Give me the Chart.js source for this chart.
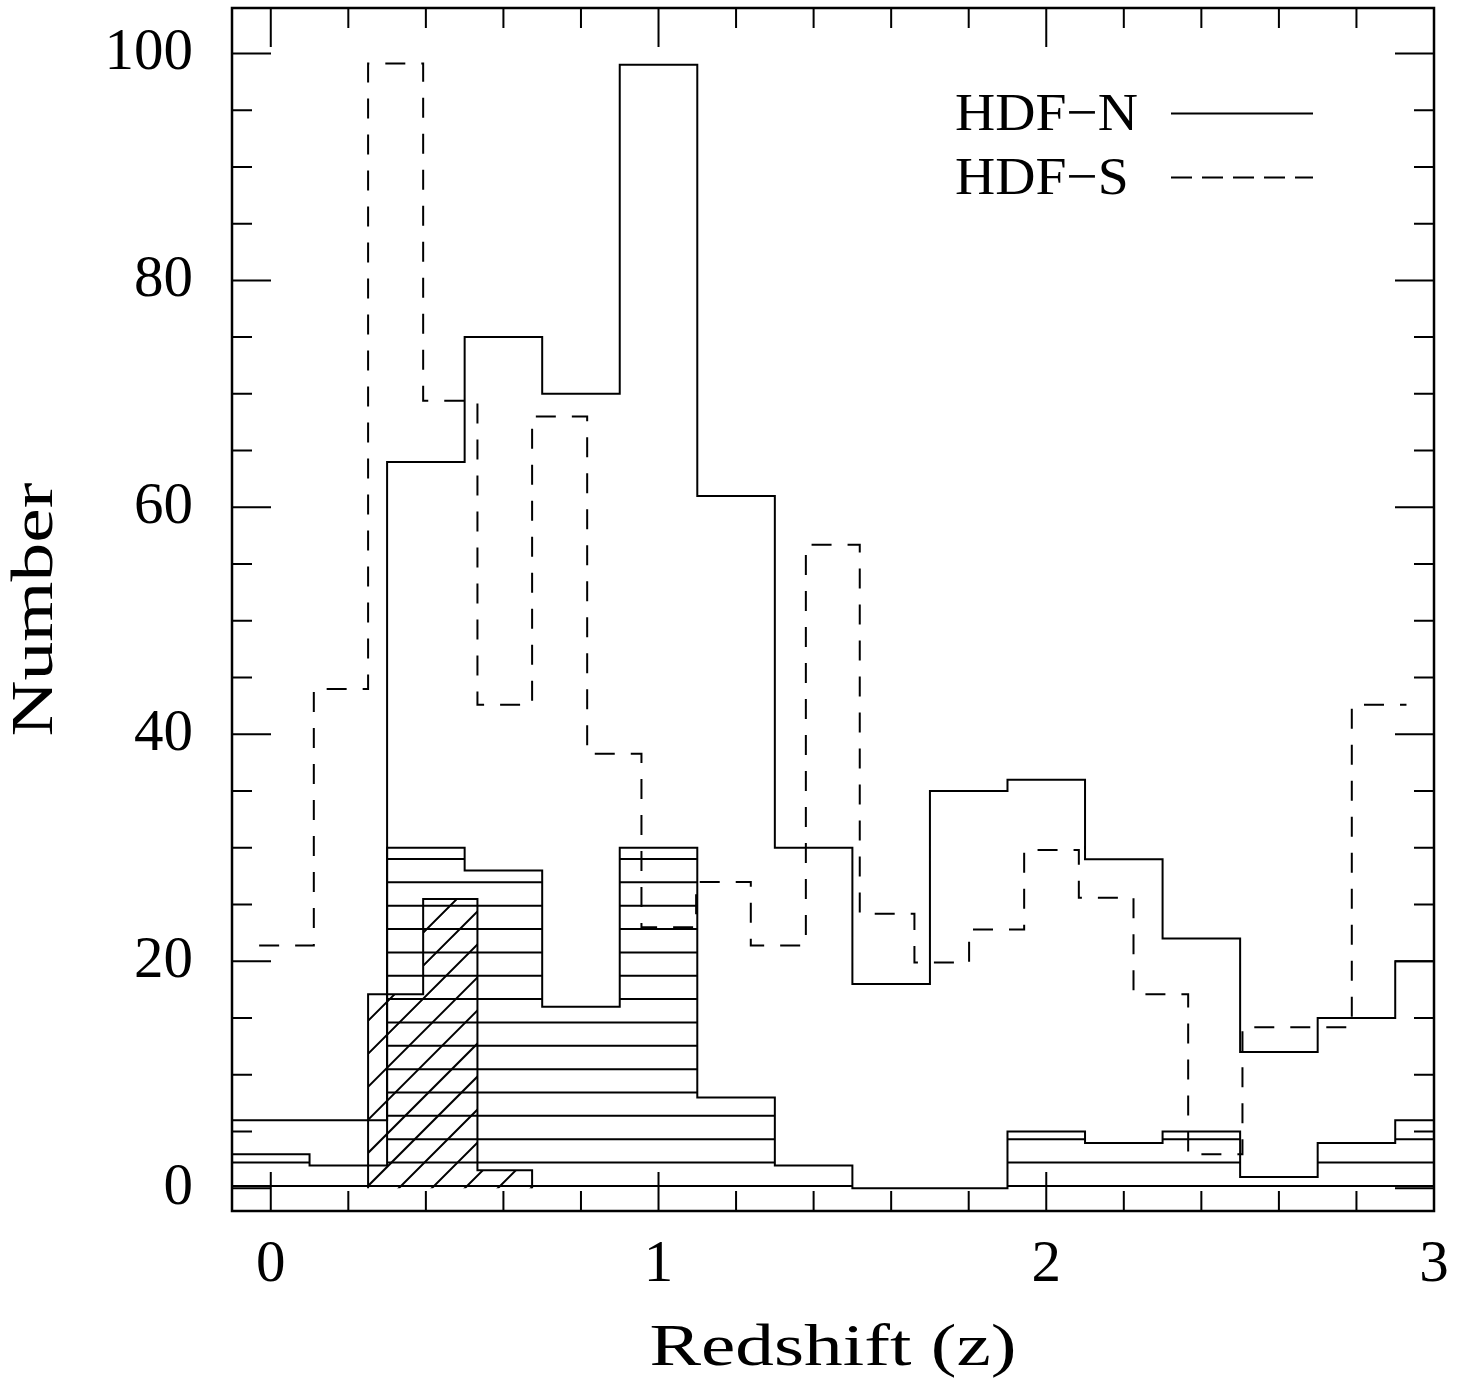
<!DOCTYPE html>
<html>
<head>
<meta charset="utf-8">
<title>Redshift distribution, HDF-N and HDF-S</title>
<script src="https://cdn.jsdelivr.net/npm/chart.js@4.4.1/dist/chart.umd.min.js"></script>
<style>
  html, body { margin: 0; padding: 0; background: #fff; }
  canvas { display: block; }
</style>
</head>
<body>
<canvas id="redshift-chart" width="1466" height="1379"></canvas>
<script>
// HDF-N bins (dz = 0.2) : all galaxies and the spectroscopic subset
const nEdges = [-0.1, 0.1, 0.3, 0.5, 0.7, 0.9, 1.1, 1.3, 1.5, 1.7, 1.9, 2.1, 2.3, 2.5, 2.7, 2.9, 3.1];
const hdfNAll = [6, 6, 64, 75, 70, 99, 61, 30, 18, 35, 36, 29, 22, 12, 15, 20];
const hdfNSpec = [3, 2, 30, 28, 16, 30, 8, 2, 0, 0, 5, 4, 5, 1, 4, 6];

// HDF-S bins, rescaled to the HDF-N area
const sEdges = [-0.03, 0.111, 0.251, 0.393, 0.533, 0.674, 0.816, 0.956, 1.097, 1.238, 1.380,
    1.519, 1.660, 1.801, 1.943, 2.084, 2.225, 2.366, 2.506, 2.647, 2.788, 2.929];
const hdfSAll = [21.4, 44, 99.1, 69.4, 42.6, 68, 38.3, 23, 27, 21.4, 56.7,
    24.2, 19.9, 22.8, 29.8, 25.6, 17.1, 3, 14.2, 14.2, 42.6];
const sSpecEdges = [0.251, 0.393, 0.533, 0.674];
const hdfSSpec = [17.1, 25.5, 1.6];

// axis labels
const xTicks = [0, 1, 2, 3];
const yTicks = [0, 20, 40, 60, 80, 100];

const serif = "'Liberation Serif', 'Times New Roman', serif";
const hatchGap = 23.35;   // px between hatch lines
const hatchLift = 2.4;    // first hatch line sits just above zero

// histogram -> points for a stepped line
function stepPoints(edges, counts, closed) {
    const pts = [];
    if (closed) pts.push({ x: edges[0], y: 0 });
    counts.forEach((c, i) => pts.push({ x: edges[i], y: c }));
    pts.push({ x: edges[edges.length - 1], y: counts[counts.length - 1] });
    if (closed) pts.push({ x: edges[edges.length - 1], y: 0 });
    return pts;
}

function stepOutline(ctx, meta, y0) {
    const pts = meta.data;
    ctx.beginPath();
    ctx.moveTo(pts[0].x, y0);
    pts.forEach((p, j) => {
        if (j > 0) ctx.lineTo(p.x, pts[j - 1].y);
        ctx.lineTo(p.x, p.y);
    });
    ctx.lineTo(pts[pts.length - 1].x, y0);
    ctx.closePath();
}

// shading of the spectroscopic histograms
const hatching = {
    id: 'hatching',
    afterDatasetsDraw(chart) {
        const { ctx, chartArea: a, scales: { y } } = chart;
        const y0 = y.getPixelForValue(0);
        chart.data.datasets.forEach((ds, i) => {
            if (!ds.hatch) return;
            const meta = chart.getDatasetMeta(i);
            const start = y0 - hatchLift;
            ctx.save();
            ctx.beginPath();
            ctx.rect(a.left, a.top, a.width, a.height);
            ctx.clip();
            stepOutline(ctx, meta, y0);
            ctx.clip();
            ctx.beginPath();
            if (ds.hatch === 'horizontal') {
                for (let yy = start; yy > a.top; yy -= hatchGap) {
                    ctx.moveTo(a.left, yy);
                    ctx.lineTo(a.right, yy);
                }
            } else {
                // "/" lines: x + y = const, anchored at the lower left corner
                const c = meta.data[0].x + start;
                const period = hatchGap * Math.SQRT2;
                const k0 = Math.floor((a.left + a.top - c) / period) - 1;
                for (let k = k0; c + k * period < a.right + a.bottom + period; k++) {
                    const s = c + k * period;
                    ctx.moveTo(a.left, s - a.left);
                    ctx.lineTo(a.right, s - a.right);
                }
            }
            ctx.lineWidth = 2;
            ctx.strokeStyle = '#000';
            ctx.stroke();
            ctx.restore();
        });
    }
};

function wideText(ctx, text, x, y, width) {
    const w = ctx.measureText(text).width;
    ctx.save();
    ctx.translate(x, y);
    ctx.scale(width / w, 1);
    ctx.fillText(text, 0, 0);
    ctx.restore();
}

// box, inward ticks on all four sides, titles and key
const frame = {
    id: 'frame',
    afterDraw(chart) {
        const { ctx, chartArea: a, scales: { x, y } } = chart;
        ctx.save();
        ctx.strokeStyle = '#000';
        ctx.fillStyle = '#000';

        ctx.lineWidth = 2;
        ctx.beginPath();
        for (let i = 0; i <= 15; i++) {
            const v = i * 0.2;
            const px = x.getPixelForValue(v);
            const len = i % 5 === 0 ? 39 : 20;
            ctx.moveTo(px, a.bottom); ctx.lineTo(px, a.bottom - len);
            ctx.moveTo(px, a.top); ctx.lineTo(px, a.top + len);
        }
        for (let i = 0; i <= 20; i++) {
            const py = y.getPixelForValue(i * 5);
            const len = i % 4 === 0 ? 39 : 20;
            ctx.moveTo(a.left, py); ctx.lineTo(a.left + len, py);
            ctx.moveTo(a.right, py); ctx.lineTo(a.right - len, py);
        }
        ctx.stroke();

        ctx.lineWidth = 2.5;
        ctx.strokeRect(a.left, a.top, a.width, a.height);

        // axis titles
        ctx.font = '59px ' + serif;
        ctx.textAlign = 'center';
        ctx.textBaseline = 'alphabetic';
        wideText(ctx, 'Redshift (z)', (a.left + a.right) / 2, a.bottom + 154, 367);
        ctx.save();
        ctx.translate(a.left - 180, (a.top + a.bottom) / 2);
        ctx.rotate(-Math.PI / 2);
        wideText(ctx, 'Number', 0, 0, 254);
        ctx.restore();

        // key
        ctx.font = '53px ' + serif;
        ctx.textAlign = 'left';
        const keyScale = 183 / ctx.measureText(chart.data.datasets[0].label).width;
        [0, 1].forEach(i => {
            const ds = chart.data.datasets[i];
            const base = a.top + 122 + i * 64;
            const w = ctx.measureText(ds.label).width * keyScale;
            wideText(ctx, ds.label, a.left + 723, base, w);
            ctx.beginPath();
            ctx.lineWidth = 2;
            ctx.setLineDash(ds.keyDash);
            ctx.moveTo(a.left + 939, base - 16.5);
            ctx.lineTo(a.left + 1081, base - 16.5);
            ctx.stroke();
            ctx.setLineDash([]);
        });
        ctx.restore();
    }
};

const lineStyle = {
    borderColor: '#000',
    borderWidth: 2,
    pointRadius: 0,
    stepped: true,
    fill: false,
    clip: 0,
    borderCapStyle: 'butt',
    borderJoinStyle: 'miter'
};

const redshiftCanvas = document.getElementById('redshift-chart');
let redshiftChart = new Chart(redshiftCanvas, {
    type: 'line',
    data: {
        datasets: [{
            ...lineStyle,
            label: 'HDF\u2212N',
            keyDash: [],
            data: stepPoints(nEdges, hdfNAll, false)
        }, {
            ...lineStyle,
            label: 'HDF\u2212S',
            keyDash: [21, 10],
            borderDash: [20, 16],
            data: stepPoints(sEdges, hdfSAll, false)
        }, {
            ...lineStyle,
            label: 'HDF-N spec',
            hatch: 'horizontal',
            data: stepPoints(nEdges, hdfNSpec, false)
        }, {
            ...lineStyle,
            label: 'HDF-S spec',
            hatch: 'diagonal',
            data: stepPoints(sSpecEdges, hdfSSpec, true)
        }]
    },
    options: {
        responsive: false,
        devicePixelRatio: 1,
        animation: false,
        layout: { padding: { top: 8, right: 32, left: 0, bottom: 0 } },
        scales: {
            x: {
                type: 'linear',
                min: -0.1,
                max: 3.0,
                grid: { display: false, drawTicks: false },
                border: { display: false },
                ticks: {
                    color: '#000',
                    font: { family: serif, size: 59 },
                    padding: 19,
                    maxRotation: 0,
                    autoSkip: false
                },
                afterBuildTicks: axis => { axis.ticks = xTicks.map(v => ({ value: v })); },
                afterFit: axis => {
                    axis.height = 168;
                    axis.paddingLeft = 0;
                    axis.paddingRight = 0;
                }
            },
            y: {
                type: 'linear',
                min: -2,
                max: 104,
                grid: { display: false, drawTicks: false },
                border: { display: false },
                ticks: {
                    color: '#000',
                    font: { family: serif, size: 59 },
                    padding: 39,
                    autoSkip: false
                },
                afterBuildTicks: axis => { axis.ticks = yTicks.map(v => ({ value: v })); },
                afterFit: axis => {
                    axis.width = 232;
                    axis.paddingTop = 0;
                    axis.paddingBottom = 0;
                }
            }
        },
        plugins: {
            legend: { display: false },
            tooltip: { enabled: false }
        }
    },
    plugins: [hatching, frame]
});
</script>
</body>
</html>
